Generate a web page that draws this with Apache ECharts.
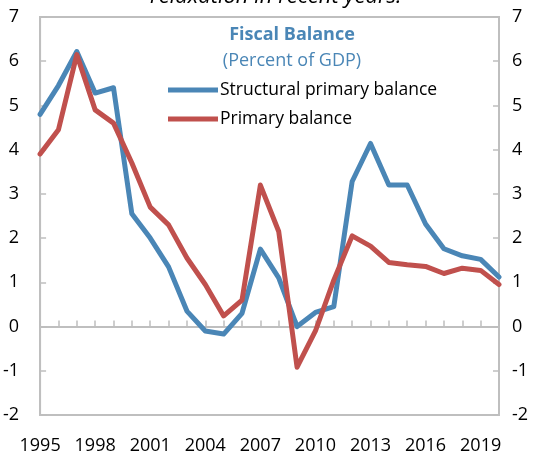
<!DOCTYPE html>
<html>
<head>
<meta charset="utf-8">
<script src="https://cdn.jsdelivr.net/npm/echarts@6/dist/echarts.min.js"></script>
<style>
  html, body { margin: 0; padding: 0; background: #fff; }
  #chart { width: 535px; height: 455px; }
</style>
</head>
<body>
<div id="chart"></div>
<script>
  // 年份
  var years = [];
  for (var y = 1995; y <= 2020; y++) years.push(String(y));

  var structuralBalance = [4.8, 5.45, 6.22, 5.28, 5.4, 2.55, 2.0, 1.35, 0.35, -0.1, -0.17, 0.3,
    1.75, 1.1, 0.0, 0.32, 0.45, 3.28, 4.14, 3.2, 3.2, 2.32, 1.76, 1.6, 1.52, 1.12];
  var primaryBalance = [3.9, 4.45, 6.15, 4.9, 4.6, 3.7, 2.7, 2.3, 1.55, 0.95, 0.24, 0.6,
    3.2, 2.15, -0.92, -0.1, 1.05, 2.05, 1.82, 1.45, 1.4, 1.36, 1.2, 1.32, 1.27, 0.95];

  var yTicks = { min: -2, max: 7, interval: 1 };

  var blue = '#4A86B6';
  var red = '#C0504D';
  var grey = '#BFBFBF';
  var font = 'Open Sans';

  var myChart = echarts.init(document.getElementById('chart'));

  var yAxisBase = {
    type: 'value',
    min: yTicks.min,
    max: yTicks.max,
    interval: yTicks.interval,
    splitLine: { show: false },
    axisLine: { show: true, lineStyle: { color: grey, width: 2 } },
    axisTick: { show: true, inside: true, length: 6, lineStyle: { color: grey, width: 1.5 } },
    axisLabel: { color: '#000', fontSize: 18, fontFamily: font }
  };

  var option = {
    animation: false,
    color: [blue, red],
    textStyle: { fontFamily: font },
    grid: {
      left: 35, right: 36, top: 17, bottom: 40,
      show: true, borderColor: grey, borderWidth: 2
    },
    graphic: [{
      type: 'text',
      left: 150,
      top: -14,
      style: { text: 'relaxation in recent years.', fontSize: 22, fontStyle: 'italic', fill: '#000', fontFamily: font }
    }],
    title: {
      text: 'Fiscal Balance',
      subtext: '(Percent of GDP)',
      left: 287,
      textAlign: 'center',
      top: 21,
      itemGap: 8,
      textStyle: { color: blue, fontSize: 18, fontWeight: 'bold', fontFamily: font },
      subtextStyle: { color: blue, fontSize: 18, fontFamily: font }
    },
    legend: {
      orient: 'vertical',
      left: 163,
      top: 76,
      itemWidth: 50,
      itemHeight: 5,
      itemGap: 11,
      icon: 'rect',
      textStyle: { color: '#000', fontSize: 17.5, fontFamily: font, padding: [0, 0, 0, -3] },
      data: ['Structural primary balance', 'Primary balance']
    },
    xAxis: [{
      type: 'category',
      data: years,
      boundaryGap: false,
      axisLine: { show: true, onZero: true, lineStyle: { color: grey, width: 2 } },
      axisTick: { show: true, inside: true, length: 6, interval: 0, lineStyle: { color: grey, width: 1.5 } },
      axisLabel: { show: false }
    }, {
      type: 'category',
      data: years,
      boundaryGap: false,
      position: 'bottom',
      axisLine: { show: false, onZero: false },
      axisTick: { show: false },
      axisLabel: { color: '#000', fontSize: 18, fontFamily: font, interval: 2, margin: 22 }
    }],
    yAxis: [
      Object.assign({}, yAxisBase, { position: 'left', axisLabel: Object.assign({}, yAxisBase.axisLabel, { margin: 21 }) }),
      Object.assign({}, yAxisBase, { position: 'right', axisLabel: Object.assign({}, yAxisBase.axisLabel, { margin: 13 }) })
    ],
    series: [{
      name: 'Structural primary balance',
      type: 'line',
      data: structuralBalance,
      symbol: 'none',
      lineStyle: { width: 5, color: blue, cap: 'round', join: 'round' },
      z: 3
    }, {
      name: 'Primary balance',
      type: 'line',
      data: primaryBalance,
      symbol: 'none',
      lineStyle: { width: 5, color: red, cap: 'round', join: 'round' },
      z: 4
    }]
  };

  myChart.setOption(option);
</script>
</body>
</html>
